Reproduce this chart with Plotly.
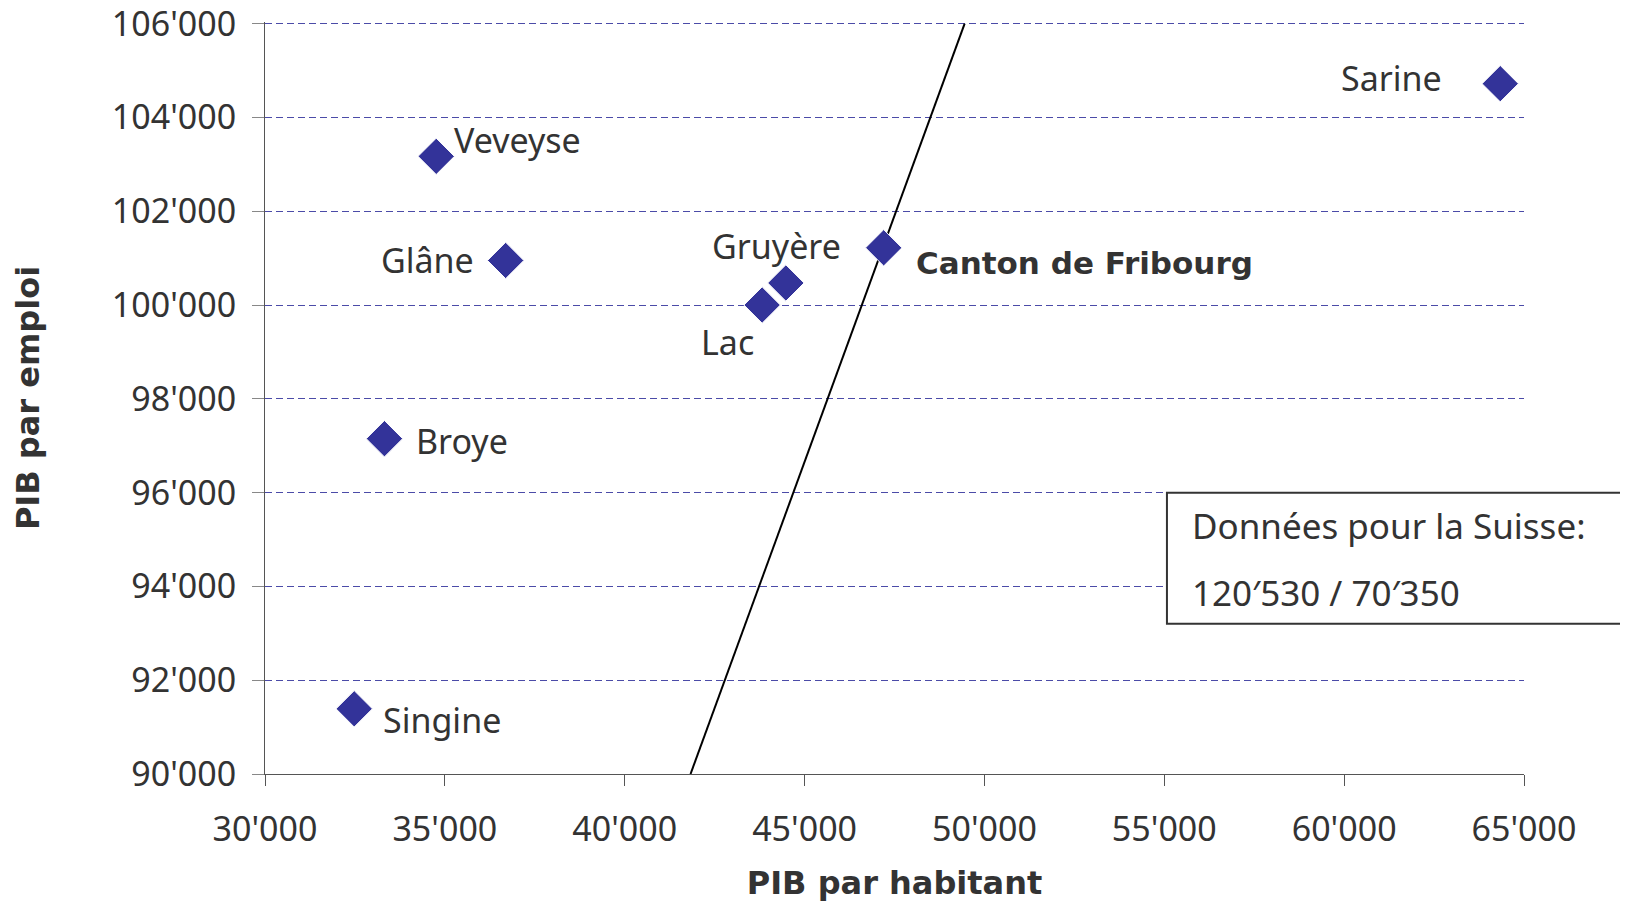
import plotly.graph_objects as go

# PIB par habitant (x) / PIB par emploi (y), districts du canton de Fribourg
districts = ["Veveyse", "Glâne", "Gruyère", "Lac", "Canton de Fribourg", "Sarine", "Broye", "Singine"]
pib_habitant = [34760, 36690, 44480, 43820, 47200, 64340, 33320, 32480]
pib_emploi = [103170, 100950, 100470, 100000, 101220, 104720, 97150, 91390]

# droite de référence (passe par le point du canton)
ligne_x = [41830, 49450]
ligne_y = [90000, 106000]

x_ticks = [30000, 35000, 40000, 45000, 50000, 55000, 60000, 65000]
x_labels = ["30'000", "35'000", "40'000", "45'000", "50'000", "55'000", "60'000", "65'000"]
y_ticks = [90000, 92000, 94000, 96000, 98000, 100000, 102000, 104000, 106000]
y_labels = ["90'000", "92'000", "94'000", "96'000", "98'000", "100'000", "102'000", "104'000", "106'000"]

suisse_lines = ["Données pour la Suisse:", "120′530 / 70′350"]

# label placement: (xshift, yshift, xanchor, bold)
label_pos = {
    "Veveyse": (16, 16, "left", False),
    "Glâne": (-30, 0, "right", False),
    "Gruyère": (-9, 37, "center", False),
    "Lac": (-35, -37, "center", False),
    "Canton de Fribourg": (30, -15, "left", True),
    "Sarine": (-56, 6, "right", False),
    "Broye": (30, -2, "left", False),
    "Singine": (27, -11, "left", False),
}

TXT = "#333333"
FONT = "Noto Sans"
BOLD = "DejaVu Sans"

fig = go.Figure()

fig.add_trace(go.Scatter(
    x=ligne_x, y=ligne_y, mode="lines",
    line=dict(color="black", width=2),
    hoverinfo="skip", showlegend=False, cliponaxis=False))

fig.add_trace(go.Scatter(
    x=pib_habitant, y=pib_emploi, mode="markers",
    marker=dict(symbol="diamond", size=28, color="#333399",
                line=dict(color="white", width=1)),
    text=districts, showlegend=False, cliponaxis=False))

for name, xv, yv in zip(districts, pib_habitant, pib_emploi):
    dx, dy, anchor, bold = label_pos[name]
    fig.add_annotation(
        x=xv, y=yv, xref="x", yref="y", text=f"<b>{name}</b>" if bold else name,
        showarrow=False, xanchor=anchor, yanchor="middle", xshift=dx, yshift=dy,
        font=dict(family=BOLD if bold else FONT, size=31 if bold else 34, color=TXT))

# encadré Suisse
fig.add_shape(type="rect", xref="paper", yref="paper",
              x0=0.7164, x1=1.2, y0=0.1997, y1=0.374,
              line=dict(color="#333333", width=2), fillcolor="white", layer="above")
for i, t in enumerate(suisse_lines):
    fig.add_annotation(x=0.7347, y=0.330 - i * 0.0886, xref="paper", yref="paper",
                       text=t, showarrow=False, xanchor="left", yanchor="middle",
                       font=dict(family=FONT, size=35, color=TXT))

fig.update_xaxes(
    range=[30000, 65000], tickvals=x_ticks, ticktext=x_labels,
    showgrid=False, zeroline=False,
    showline=True, linecolor="#555555", linewidth=1,
    ticks="outside", ticklen=11, tickcolor="#555555",
    tickfont=dict(family=FONT, size=34, color=TXT), ticklabelstandoff=14,
    title=dict(text="<b>PIB par habitant</b>", font=dict(family=BOLD, size=32, color=TXT),
               standoff=31))
# top of range nudged a hair above 106'000 so the top gridline is still drawn
fig.update_yaxes(
    range=[90000, 106035], tickvals=y_ticks, ticktext=y_labels,
    showgrid=True, gridcolor="#4b4ba8", griddash="7px,4px", gridwidth=1,
    zeroline=False,
    showline=True, linecolor="#555555", linewidth=1,
    ticks="outside", ticklen=12, tickcolor="#888888",
    tickfont=dict(family=FONT, size=34, color=TXT), ticklabelstandoff=9,
    ticklabeloverflow="allow",
    title=dict(text="<b>PIB par emploi</b>", font=dict(family=BOLD, size=32, color=TXT),
               standoff=62))

# the page body adds an 8px margin, so the figure is sized to fit inside it
fig.update_layout(
    width=1620, height=894,
    margin=dict(l=257, r=104, t=14, b=128, autoexpand=False),
    plot_bgcolor="white", paper_bgcolor="white",
    showlegend=False)

fig.write_html("out.html")
